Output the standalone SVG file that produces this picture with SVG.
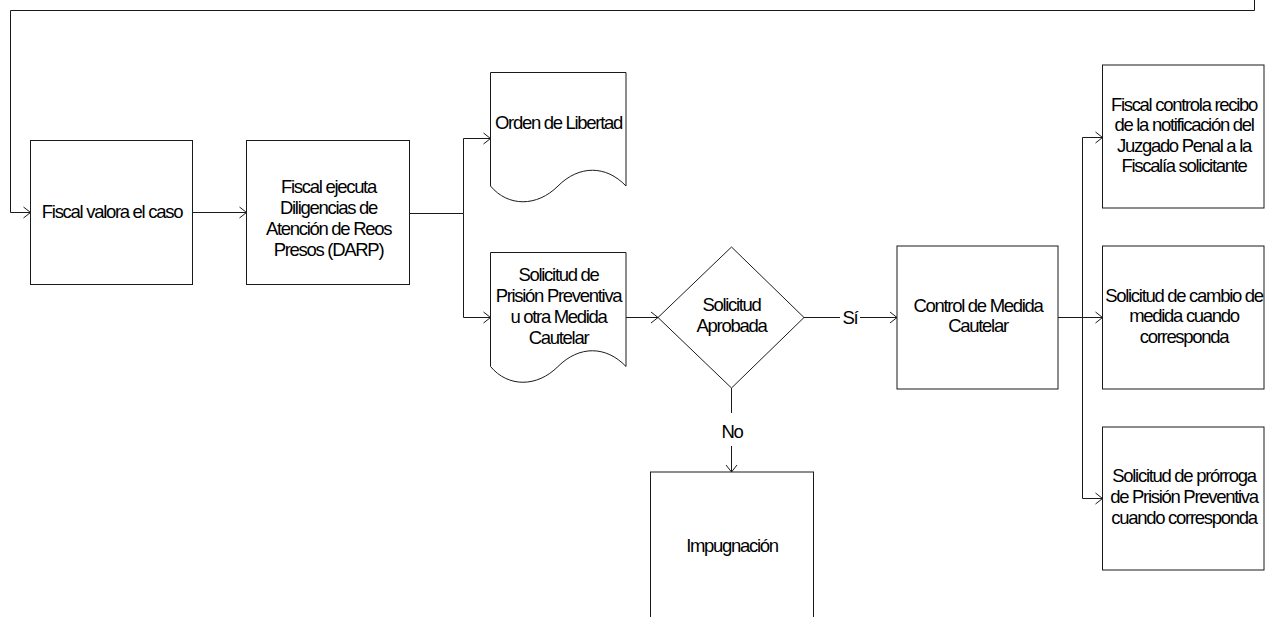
<svg xmlns="http://www.w3.org/2000/svg" width="1266" height="617" viewBox="0 0 1266 617">
<style>
.shape{fill:#fff;stroke:#1a1a1a;stroke-width:1}
.conn{fill:none;stroke:#1a1a1a;stroke-width:1}
text{font-family:"Liberation Sans",Arial,sans-serif;font-size:18.5px;letter-spacing:-1.3px;fill:#000;text-anchor:middle}
</style>
<defs>
<marker id="arr" markerUnits="userSpaceOnUse" viewBox="0 0 8 12" refX="7.5" refY="6" markerWidth="8" markerHeight="12" orient="auto" overflow="visible">
<path d="M0.5,0.5 L7.5,6 L0.5,11.5" fill="none" stroke="#1a1a1a" stroke-width="1"/>
</marker>
</defs>
<rect width="1266" height="617" fill="#fff"/>

<g id="connectors">
<path class="conn" d="M1254.5,0 V10.5 H10.5 V212.5 H30.5" marker-end="url(#arr)"/>
<path class="conn" d="M193,212.5 H246.5" marker-end="url(#arr)"/>
<path class="conn" d="M409.5,213.5 H463.5"/>
<path class="conn" d="M463.5,213.5 V138.5 H490.5" marker-end="url(#arr)"/>
<path class="conn" d="M463.5,213.5 V317.5 H490.5" marker-end="url(#arr)"/>
<path class="conn" d="M626,317.5 H658" marker-end="url(#arr)"/>
<path class="conn" d="M804,317.5 H840"/>
<path class="conn" d="M860,317.5 H897" marker-end="url(#arr)"/>
<path class="conn" d="M731.5,388 V413"/>
<path class="conn" d="M731.5,446 V472" marker-end="url(#arr)"/>
<path class="conn" d="M1058,317.5 H1082.5"/>
<path class="conn" d="M1082.5,317.5 V137.5 H1102.5" marker-end="url(#arr)"/>
<path class="conn" d="M1082.5,317.5 H1102.5" marker-end="url(#arr)"/>
<path class="conn" d="M1082.5,317.5 V498.5 H1102.5" marker-end="url(#arr)"/>
<text x="850" y="323.5">Sí</text>
<text x="732" y="437.5">No</text>
</g>

<g id="n1">
<rect class="shape" x="30.5" y="140.5" width="162" height="144"/>
<text x="112" y="217.5">Fiscal valora el caso</text>
</g>

<g id="n2">
<rect class="shape" x="246.5" y="140.5" width="163" height="144"/>
<text x="328.5" y="193">Fiscal ejecuta</text>
<text x="328.5" y="214">Diligencias de</text>
<text x="328.5" y="235">Atención de Reos</text>
<text x="328.5" y="256">Presos (DARP)</text>
</g>

<g id="n3">
<path class="shape" d="M490.5,72.5 H626 V186 C606,165 579,165 558,186 S508,207 490.5,186 Z"/>
<text x="558.5" y="128.5">Orden de Libertad</text>
</g>

<g id="n4">
<path class="shape" d="M490.5,252.5 H626 V366.5 C606,345.5 579,345.5 558,366.5 S508,387.5 490.5,366.5 Z"/>
<text x="558.5" y="281">Solicitud de</text>
<text x="558.5" y="302">Prisión Preventiva</text>
<text x="558.5" y="323">u otra Medida</text>
<text x="558.5" y="344">Cautelar</text>
</g>

<g id="n5">
<path class="shape" d="M731.5,247 L804,317.5 L731.5,388 L658,317.5 Z"/>
<text x="731.5" y="311">Solicitud</text>
<text x="731.5" y="332">Aprobada</text>
</g>

<g id="n6">
<rect class="shape" x="897" y="246" width="161" height="143"/>
<text x="978" y="311.5">Control de Medida</text>
<text x="978" y="332">Cautelar</text>
</g>

<g id="n7">
<rect class="shape" x="650.5" y="472" width="163" height="180"/>
<text x="732" y="551.5">Impugnación</text>
</g>

<g id="n8">
<rect class="shape" x="1102.5" y="65" width="161.5" height="143"/>
<text x="1184" y="110.5">Fiscal controla recibo</text>
<text x="1184" y="131">de la notificación del</text>
<text x="1184" y="151.5">Juzgado Penal a la</text>
<text x="1184" y="172">Fiscalía solicitante</text>
</g>

<g id="n9">
<rect class="shape" x="1102.5" y="246" width="161.5" height="143"/>
<text x="1184" y="301.5">Solicitud de cambio de</text>
<text x="1184" y="322">medida cuando</text>
<text x="1184" y="342.5">corresponda</text>
</g>

<g id="n10">
<rect class="shape" x="1102.5" y="427" width="161.5" height="143"/>
<text x="1184" y="482">Solicitud de prórroga</text>
<text x="1184" y="503">de Prisión Preventiva</text>
<text x="1184" y="523.5">cuando corresponda</text>
</g>
</svg>
